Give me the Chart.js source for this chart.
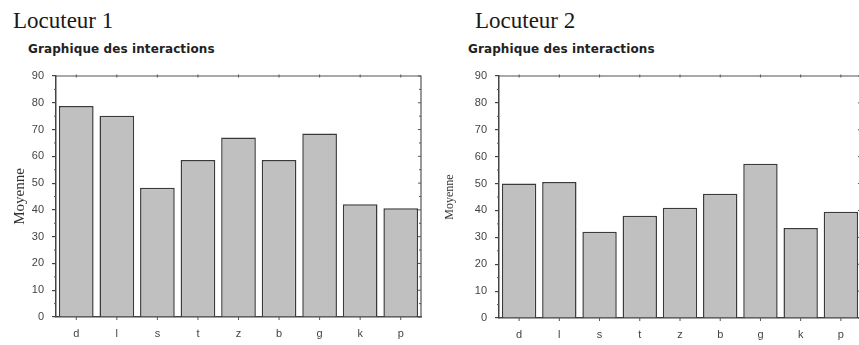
<!DOCTYPE html>
<html>
<head>
<meta charset="utf-8">
<script src="https://cdn.jsdelivr.net/npm/chart.js@4"></script>
<style>
  html, body { margin: 0; padding: 0; background: #fff; width: 859px; height: 345px; overflow: hidden; }
  #wrap { position: relative; width: 859px; height: 345px; overflow: hidden; }
  .loc { position: absolute; font-family: "Liberation Serif", serif; font-size: 23px; line-height: 23px; color: #1a1a1a; white-space: nowrap; }
  .sub { position: absolute; font-family: "DejaVu Sans", sans-serif; font-weight: bold; font-size: 12px; line-height: 12px; letter-spacing: 0.1px; color: #222; white-space: nowrap; }
  canvas { position: absolute; }
</style>
</head>
<body>
<div id="wrap">
  <div class="loc" style="left:13px; top:9px;">Locuteur 1</div>
  <div class="sub" style="left:28px; top:43px;">Graphique des interactions</div>
  <div class="loc" style="left:475px; top:9px;">Locuteur 2</div>
  <div class="sub" style="left:468px; top:43px;">Graphique des interactions</div>
  <canvas id="chart1" width="430" height="285" style="left:0; top:60px;"></canvas>
  <canvas id="chart2" width="440" height="285" style="left:430px; top:60px;"></canvas>
</div>
<script>
// phonemes on the x axis (same for both speakers)
const categories = ['d', 'l', 's', 't', 'z', 'b', 'g', 'k', 'p'];
// mean values
const locuteur1 = [78.8, 75.2, 48.3, 58.6, 67, 58.6, 68.5, 42.1, 40.6];
const locuteur2 = [50, 50.6, 32.1, 38, 41, 46.2, 57.4, 33.5, 39.5];
const yMin = 0, yMax = 90, yStep = 10;

// draws the top and right edges of the box with their little ticks
const framePlugin = {
    id: 'frame',
    afterDraw(chart) {
        const { ctx, chartArea: a, scales } = chart;
        ctx.save();
        ctx.strokeStyle = '#555';
        ctx.lineWidth = 1.2;
        ctx.beginPath();
        ctx.moveTo(a.left, a.top);
        ctx.lineTo(a.right, a.top);
        ctx.lineTo(a.right, a.bottom);
        ctx.stroke();
        // category marks on the top and bottom edges
        ctx.lineWidth = 1;
        ctx.beginPath();
        categories.forEach((c, i) => {
            const x = scales.x.getPixelForValue(i);
            ctx.moveTo(x, a.top - 1.5);
            ctx.lineTo(x, a.top + 1.5);
            ctx.moveTo(x, a.bottom);
            ctx.lineTo(x, a.bottom + 3);
        });
        // minor ticks every 5 on the y axis, major ticks on the right edge
        for (let v = yMin; v <= yMax; v += yStep / 2) {
            const y = scales.y.getPixelForValue(v);
            if (v % yStep) {
                ctx.moveTo(a.left - 2, y);
                ctx.lineTo(a.left, y);
                ctx.moveTo(a.right, y);
                ctx.lineTo(a.right - 2, y);
            } else {
                ctx.moveTo(a.right, y);
                ctx.lineTo(a.right - 3, y);
            }
        }
        ctx.stroke();
        ctx.restore();
    }
};

function makeChart(id, values, yWidth, xHeight, padRight, titleSize, titlePad) {
    return new Chart(document.getElementById(id).getContext('2d'), {
        type: 'bar',
        data: {
            labels: categories,
            datasets: [{
                data: values,
                backgroundColor: '#c0c0c0',
                borderColor: '#3a3a3a',
                borderWidth: 1.5,
                borderSkipped: 'bottom',
                barPercentage: 0.855,
                categoryPercentage: 1
            }]
        },
        options: {
            responsive: false,
            animation: false,
            devicePixelRatio: 1,
            layout: { padding: { top: 16, right: padRight, left: 0, bottom: 0 } },
            plugins: { legend: { display: false }, tooltip: { enabled: false } },
            scales: {
                x: {
                    grid: { display: true, drawOnChartArea: false, drawTicks: false, color: '#444' },
                    border: { color: '#444', width: 1.5 },
                    ticks: { color: '#444', font: { family: 'Liberation Sans', size: 11 }, padding: 10 },
                    afterFit: s => { s.height = xHeight; }
                },
                y: {
                    min: yMin, max: yMax,
                    grid: { drawOnChartArea: false, tickLength: 4, color: '#444', lineWidth: 1.2 },
                    border: { color: '#444', width: 1.5 },
                    ticks: { stepSize: yStep, color: '#444', font: { family: 'Liberation Sans', size: 11 }, padding: 8 },
                    title: {
                        display: true, text: 'Moyenne', color: '#333',
                        font: { family: 'Liberation Serif', size: titleSize },
                        padding: { top: titlePad, bottom: 0 }
                    },
                    afterFit: s => { s.width = yWidth; }
                }
            }
        },
        plugins: [framePlugin]
    });
}

const charts = [
    makeChart('chart1', locuteur1, 56, 28, 9, 15, 11),
    makeChart('chart2', locuteur2, 69, 27, 9, 12, 13)
];
</script>
</body>
</html>
